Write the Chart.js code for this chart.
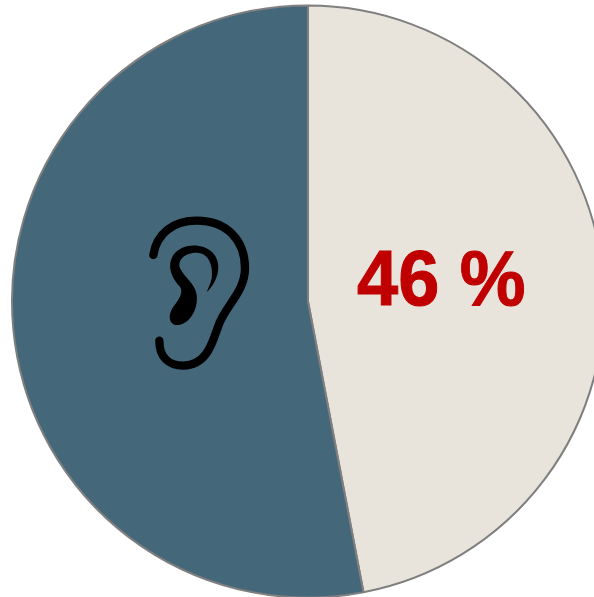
<!DOCTYPE html>
<html>
<head>
<meta charset="utf-8">
<script src="https://cdn.jsdelivr.net/npm/chart.js@4"></script>
<style>
  html, body { margin: 0; padding: 0; background: #ffffff; overflow: hidden; width: 594px; height: 597px; }
  #chart { position: absolute; left: 0; top: 0; }
</style>
</head>
<body>
<canvas id="chart" width="616" height="603"></canvas>
<script>
  const categories = ['Yes', 'No'];
  const shares = [47, 53];
  const sliceColors = ['#e8e4dc', '#44687a'];
  const label = '46 %';

  // ear icon, drawn in the coordinates of a 3x crop
  const earOuter = 'M70 165 C80 100 130 62 200 62 C290 62 345 120 345 205 C345 270 295 310 270 365 C250 410 240 495 160 497 C115 497 88 470 88 422';
  const earInner = 'M230 277 C268 240 278 185 245 155 C215 128 155 130 130 165 C108 200 128 238 150 260 C160 275 150 295 130 320 C110 350 120 378 145 375 C185 370 205 320 200 285 C195 250 165 235 150 205 C140 175 175 155 205 159 C240 162 250 205 245 235 C243 250 235 262 230 277 Z';

  const overlay = {
    id: 'overlay',
    afterDraw(chart) {
      const ctx = chart.ctx;
      ctx.save();
      ctx.translate(357, 305);
      ctx.scale(1, 1.06);
      ctx.fillStyle = '#c00000';
      ctx.strokeStyle = '#c00000';
      ctx.lineWidth = 1;
      ctx.font = 'bold 74px "Liberation Sans", Arial, sans-serif';
      ctx.textAlign = 'left';
      ctx.textBaseline = 'alphabetic';
      ctx.fillText(label, 0, 0);
      ctx.strokeText(label, 0, 0);
      ctx.restore();

      ctx.save();
      ctx.translate(130, 200);
      ctx.scale(1 / 3, 1 / 3);
      ctx.strokeStyle = '#000000';
      ctx.fillStyle = '#000000';
      ctx.lineWidth = 25;
      ctx.lineCap = 'round';
      ctx.stroke(new Path2D(earOuter));
      ctx.fill(new Path2D(earInner));
      ctx.restore();
    }
  };

  new Chart(document.getElementById('chart'), {
    type: 'pie',
    data: {
      labels: categories,
      datasets: [{
        data: shares,
        backgroundColor: sliceColors,
        borderColor: '#7f7f7f',
        borderWidth: 2,
        radius: 296
      }]
    },
    options: {
      responsive: false,
      devicePixelRatio: 1,
      animation: false,
      layout: { padding: 0 },
      plugins: {
        legend: { display: false },
        tooltip: { enabled: false }
      }
    },
    plugins: [overlay]
  });
</script>
</body>
</html>
